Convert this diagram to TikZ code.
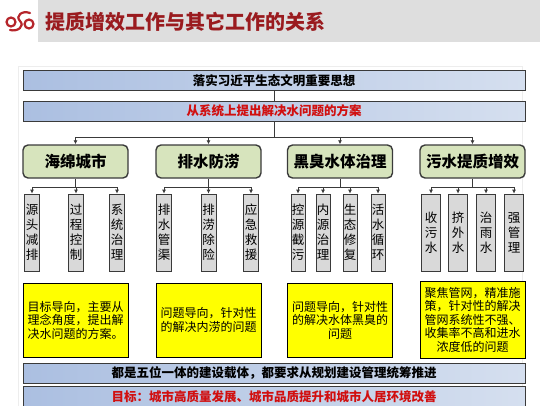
\documentclass[tikz,border=0pt]{standalone}
\usepackage{fontspec}
\setmainfont{Noto Sans CJK SC}
\usetikzlibrary{arrows.meta,positioning}
\definecolor{titlered}{HTML}{9A1B1F}
\definecolor{logored}{HTML}{B5252B}
\definecolor{bar}{HTML}{DEDEDE}
\definecolor{edge}{HTML}{3A3A3A}
\definecolor{bandL}{HTML}{ABBFE1}
\definecolor{bandR}{HTML}{D5DFEF}
\definecolor{keyred}{HTML}{D10F0F}
\definecolor{leaf}{HTML}{D7E4BD}
\definecolor{stone}{HTML}{D9D9D9}
\definecolor{memoyellow}{HTML}{FFFF00}
\tikzset{
  band/.style={
    draw=edge, line width=1pt, left color=bandL, right color=bandR,
    minimum width=502pt, minimum height=20pt, inner sep=0pt,
    font=\fontsize{12.5}{14}\selectfont\bfseries
  },
  theme/.style={
    draw=edge, line width=1.4pt, fill=leaf, rounded corners=5pt,
    minimum width=105pt, minimum height=33pt, inner sep=0pt,
    font=\fontsize{15.5}{17}\selectfont\bfseries
  },
  measure/.style={
    draw=edge, line width=0.7pt, fill=stone, minimum height=77pt,
    inner sep=0pt, align=center, font=\fontsize{12.5}{15}\selectfont
  },
  memo/.style={
    draw=black, line width=0.7pt, fill=memoyellow,
    minimum width=105pt, minimum height=74pt, inner sep=1pt,
    align=center, font=\fontsize{12}{13.5}\selectfont
  },
  arrow/.style={-{Latex[length=4pt,width=4pt]}, line width=0.8pt, draw=edge},
  link/.style={line width=0.8pt, draw=edge},
  logo/.style={draw=logored, line width=2.2pt, line cap=round}
}

\begin{document}
\begin{tikzpicture}[x=1pt, y=-1pt]
        \useasboundingbox (0,0) rectangle (540,405);
        % heading
        \fill[bar] (38,0) rectangle (540,42);
        \draw[logo] (30,13) .. controls (22,10) and (15,16) .. (20,21)
          .. controls (25,26) and (18,32) .. (10,30);
        \draw[logo] (11,22) circle (4.5);
        \draw[logo] (29,24) circle (4.5);
        \node[anchor=west, text=titlered, font=\fontsize{20}{22}\selectfont\bfseries] (title) at (42,22)
          {提质增效工作与其它工作的关系};
        \draw[black!7] (18,66) rectangle (522,410);
        % banners
        \node[band] (idea) at (274,80.5) {落实习近平生态文明重要思想};
        \node[band, text=keyred] (plan) at (274,111) {从系统上提出解决水问题的方案};
        \draw[link] (idea) -- (plan);
        \draw[link] (plan.south) -- ++(0,16) coordinate (hub);
        % four works
        \node[theme] (sponge) at (75.5,161.5) {海绵城市};
        \node[theme] (drain) at (208.5,161.5) {排水防涝};
        \node[theme] (black) at (340,161.5) {黑臭水体治理};
        \node[theme] (sewage) at (472.5,161.5) {污水提质增效};
        \draw[arrow] (hub) -| (sponge.north);
        \draw[arrow] (hub) -| (drain.north);
        \draw[arrow] (hub) -| (black.north);
        \draw[arrow] (hub) -| (sewage.north);
        % measures
        \node[measure, minimum width=15pt] (sp1) at (32,232.5) {源\\头\\减\\排};
        \node[measure, minimum width=15pt] (sp2) at (76,232.5) {过\\程\\控\\制};
        \node[measure, minimum width=15pt] (sp3) at (117,232.5) {系\\统\\治\\理};
        \node[measure, minimum width=15pt] (dr1) at (164,232.5) {排\\水\\管\\渠};
        \node[measure, minimum width=15pt] (dr2) at (208.5,232.5) {排\\涝\\除\\险};
        \node[measure, minimum width=15pt] (dr3) at (251,232.5) {应\\急\\救\\援};
        \node[measure, minimum width=14pt] (bk1) at (298,232.5) {控\\源\\截\\污};
        \node[measure, minimum width=14pt] (bk2) at (323,232.5) {内\\源\\治\\理};
        \node[measure, minimum width=14pt] (bk3) at (350,232.5) {生\\态\\修\\复};
        \node[measure, minimum width=14pt] (bk4) at (378,232.5) {活\\水\\循\\环};
        \node[measure, minimum width=19pt] (sw1) at (431,232.5) {收\\污\\水};
        \node[measure, minimum width=19pt] (sw2) at (458,232.5) {挤\\外\\水};
        \node[measure, minimum width=19pt] (sw3) at (486,232.5) {治\\雨\\水};
        \node[measure, minimum width=19pt] (sw4) at (514,232.5) {强\\管\\理};
        \draw[link] (sponge.south) -- ++(0,9) coordinate (sponge-hub);
        \draw[arrow] (sponge-hub) -| (sp1.north);
        \draw[arrow] (sponge-hub) -| (sp2.north);
        \draw[arrow] (sponge-hub) -| (sp3.north);
        \draw[link] (drain.south) -- ++(0,9) coordinate (drain-hub);
        \draw[arrow] (drain-hub) -| (dr1.north);
        \draw[arrow] (drain-hub) -| (dr2.north);
        \draw[arrow] (drain-hub) -| (dr3.north);
        \draw[link] (black.south) -- ++(0,9) coordinate (black-hub);
        \draw[arrow] (black-hub) -| (bk1.north);
        \draw[arrow] (black-hub) -| (bk2.north);
        \draw[arrow] (black-hub) -| (bk3.north);
        \draw[arrow] (black-hub) -| (bk4.north);
        \draw[link] (sewage.south) -- ++(0,9) coordinate (sewage-hub);
        \draw[arrow] (sewage-hub) -| (sw1.north);
        \draw[arrow] (sewage-hub) -| (sw2.north);
        \draw[arrow] (sewage-hub) -| (sw3.north);
        \draw[arrow] (sewage-hub) -| (sw4.north);
        % notes
        \node[memo] (sponge-memo) at (75.5,320)
          {目标导向，主要从\\理念角度，提出解\\决水问题的方案。};
        \node[memo] (drain-memo) at (208.5,320)
          {问题导向，针对性\\的解决内涝的问题};
        \node[memo] (black-memo) at (340,320)
          {问题导向，针对性\\的解决水体黑臭的\\问题};
        \node[memo, minimum height=77pt] (sewage-memo) at (472.5,319.5)
          {聚焦管网，精准施\\策，针对性的解决\\管网系统性不强、\\收集率不高和进水\\浓度低的问题};
        % bottom banners
        \node[band] (carrier) at (274,373) {都是五位一体的建设载体，都要求从规划建设管理统筹推进};
        \node[band, text=keyred] (goal) at (274,396.5) {目标：城市高质量发展、城市品质提升和城市人居环境改善};
      \end{tikzpicture}
\end{document}
